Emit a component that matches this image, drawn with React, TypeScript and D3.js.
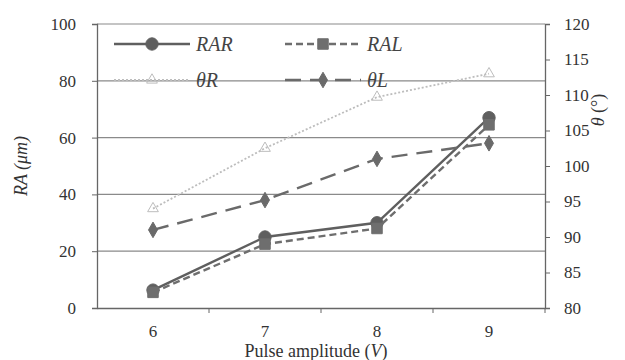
import { useRef, useEffect } from "react";
import * as d3 from "d3";

const pulse = ["6", "7", "8", "9"];
const rar = [6.3, 25, 30, 67];
const ral = [5.5, 22.5, 28, 64.5];
const thetaR = [94, 102.5, 109.7, 113];
const thetaL = [91, 95.2, 101, 103.2];
const leftTicks = [0, 20, 40, 60, 80, 100];
const rightTicks = [80, 85, 90, 95, 100, 105, 110, 115, 120];

const App = () => {
  const svgRef = useRef<SVGSVGElement>(null);

  useEffect(() => {
    const width = 625;
    const height = 360;
    const margin = { top: 24, right: 80, bottom: 52, left: 97 };
    const font = "'Times New Roman', 'DejaVu Serif', serif";
    const svg = d3
      .select(svgRef.current)
      .attr("width", width)
      .attr("height", height);
    svg.selectAll("*").remove();

    const xScale = d3
      .scaleBand()
      .domain(pulse)
      .range([margin.left, width - margin.right]);
    const yLeft = d3
      .scaleLinear()
      .domain([0, 100])
      .range([height - margin.bottom, margin.top]);
    const yRight = d3
      .scaleLinear()
      .domain([80, 120])
      .range([height - margin.bottom, margin.top]);
    const cx = (i: number) => xScale(pulse[i])! + xScale.bandwidth() / 2;

    // grid
    svg
      .append("g")
      .selectAll("line")
      .data(leftTicks.slice(1))
      .join("line")
      .attr("x1", margin.left)
      .attr("x2", width - margin.right)
      .attr("y1", (d) => yLeft(d))
      .attr("y2", (d) => yLeft(d))
      .attr("stroke", "#8a8a8a")
      .attr("stroke-width", 1.2);

    // axes
    const leftAxis = svg
      .append("g")
      .attr("transform", `translate(${margin.left},0)`)
      .call(d3.axisLeft(yLeft).tickValues(leftTicks).tickSize(5).tickPadding(16));
    const rightAxis = svg
      .append("g")
      .attr("transform", `translate(${width - margin.right},0)`)
      .call(d3.axisRight(yRight).tickValues(rightTicks).tickSize(5).tickPadding(14));
    const bottomAxis = svg
      .append("g")
      .attr("transform", `translate(0,${height - margin.bottom})`)
      .call(d3.axisBottom(xScale).tickSize(0).tickPadding(17));
    svg
      .append("g")
      .selectAll("line")
      .data(pulse.slice(1).concat(["end"]))
      .join("line")
      .attr("x1", (d) => (d === "end" ? width - margin.right : xScale(d)!))
      .attr("x2", (d) => (d === "end" ? width - margin.right : xScale(d)!))
      .attr("y1", height - margin.bottom)
      .attr("y2", height - margin.bottom + 5)
      .attr("stroke", "#666");

    [leftAxis, rightAxis, bottomAxis].forEach((g) => {
      g.attr("font-family", font).attr("font-size", 17);
      g.select(".domain").attr("stroke", "#666").attr("stroke-width", 1.3);
      g.selectAll(".tick line").attr("stroke", "#666");
      g.selectAll("text").attr("fill", "#333");
    });

    // series
    const series = [
      { name: "RAR", values: rar, axis: yLeft, color: "#5f5f5f", dash: "none", width: 2.4, marker: "circle", size: 120 },
      { name: "RAL", values: ral, axis: yLeft, color: "#6e6e6e", dash: "7,4", width: 2.4, marker: "square", size: 110 },
      { name: "θR", values: thetaR, axis: yRight, color: "#bdbdbd", dash: "2,2", width: 1.8, marker: "triangle", size: 50 },
      { name: "θL", values: thetaL, axis: yRight, color: "#6a6a6a", dash: "16,9", width: 2.4, marker: "diamond", size: 70 },
    ];
    const symbolOf: Record<string, d3.SymbolType> = {
      circle: d3.symbolCircle,
      square: d3.symbolSquare,
      triangle: d3.symbolTriangle,
      diamond: d3.symbolDiamond,
    };

    series.forEach((s) => {
      const line = d3
        .line<number>()
        .x((d, i) => cx(i))
        .y((d) => s.axis(d));
      svg
        .append("path")
        .datum(s.values)
        .attr("d", line)
        .attr("fill", "none")
        .attr("stroke", s.color)
        .attr("stroke-width", s.width)
        .attr("stroke-dasharray", s.dash);
      svg
        .append("g")
        .selectAll("path")
        .data(s.values)
        .join("path")
        .attr("transform", (d, i) => `translate(${cx(i)},${s.axis(d)})`)
        .attr("d", d3.symbol().type(symbolOf[s.marker]).size(s.size))
        .attr("fill", s.marker === "triangle" ? "none" : s.color)
        .attr("stroke", s.color)
        .attr("stroke-width", 1);
    });

    // legend
    const legendPos = [
      { x: 114, y: 44 },
      { x: 285, y: 44 },
      { x: 114, y: 80 },
      { x: 285, y: 80 },
    ];
    series.forEach((s, i) => {
      const p = legendPos[i];
      const g = svg.append("g").attr("transform", `translate(${p.x},${p.y})`);
      g.append("line")
        .attr("x1", 0)
        .attr("x2", 76)
        .attr("stroke", s.color)
        .attr("stroke-width", s.width)
        .attr("stroke-dasharray", s.dash);
      g.append("path")
        .attr("transform", "translate(38,0)")
        .attr("d", d3.symbol().type(symbolOf[s.marker]).size(s.size))
        .attr("fill", s.marker === "triangle" ? "none" : s.color)
        .attr("stroke", s.color);
      g.append("text")
        .attr("x", 82)
        .attr("y", 7)
        .attr("font-family", font)
        .attr("font-style", "italic")
        .attr("font-size", 20)
        .attr("fill", "#444")
        .text(s.name);
    });

    // axis titles
    svg
      .append("text")
      .attr("transform", `translate(27,${(margin.top + height - margin.bottom) / 2}) rotate(-90)`)
      .attr("text-anchor", "middle")
      .attr("font-family", font)
      .attr("font-style", "italic")
      .attr("font-size", 18)
      .attr("fill", "#333")
      .text("RA (μm)");
    svg
      .append("text")
      .attr("transform", `translate(604,110) rotate(-90)`)
      .attr("text-anchor", "middle")
      .attr("font-family", font)
      .attr("font-size", 18)
      .attr("fill", "#333")
      .html("<tspan font-style='italic'>θ</tspan> (°)");
    svg
      .append("text")
      .attr("x", 316)
      .attr("y", 357)
      .attr("text-anchor", "middle")
      .attr("font-family", font)
      .attr("font-size", 18)
      .attr("fill", "#333")
      .html("Pulse amplitude (<tspan font-style='italic'>V</tspan>)");
  }, []);

  return (
    <div style={{ position: "absolute", left: 0, top: 0 }}>
      <svg ref={svgRef}></svg>
    </div>
  );
};

export default App;
